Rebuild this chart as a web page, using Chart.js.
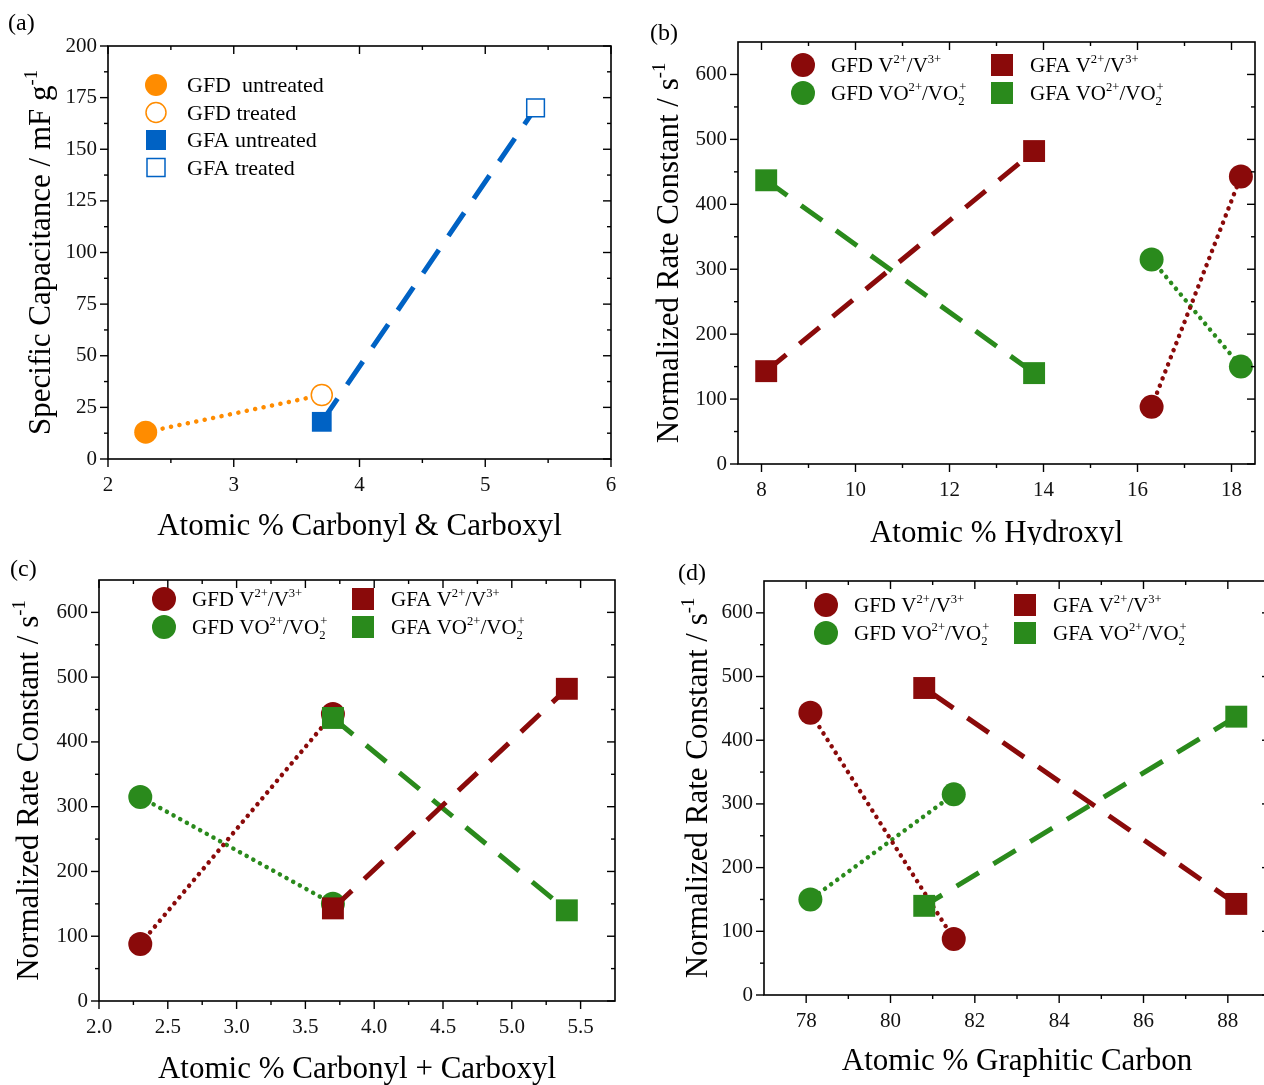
<!DOCTYPE html>
<html>
<head>
<meta charset="utf-8">
<script src="https://cdn.jsdelivr.net/npm/chart.js@4.4.0/dist/chart.umd.min.js"></script>
<style>
html, body { margin: 0; padding: 0; background: #fff; overflow: hidden; width: 1264px; height: 1085px; }
canvas { position: absolute; }
</style>
</head>
<body>
<canvas id="ca" width="632" height="545" style="left:0;top:0"></canvas>
<canvas id="cb" width="632" height="545" style="left:632px;top:0"></canvas>
<canvas id="cc" width="632" height="540" style="left:0;top:545px"></canvas>
<canvas id="cd" width="640" height="540" style="left:632px;top:545px"></canvas>
<script>
// sample order: GFD untreated, GFD treated, GFA untreated, GFA treated
const samples = ["GFD  untreated", "GFD treated", "GFA untreated", "GFA treated"];
const carbonylCarboxyl = [2.3, 3.7, 3.7, 5.4];
const hydroxyl = [16.3, 18.2, 8.1, 13.8];
const graphitic = [81.5, 78.1, 88.2, 80.8];
const capacitance = [13, 31, 18, 170];
const kV = [88, 443, 143, 482];   // V2+/V3+
const kVO = [315, 150, 437, 140]; // VO2+/VO2+

const rateLabels = ["GFD V^{2+}/V^{3+}", "GFA V^{2+}/V^{3+}", "GFD VO^{2+}/VO_{2}^{+}", "GFA VO^{2+}/VO_{2}^{+}"];

const capXTicks = [2, 3, 4, 5, 6];
const capXMinor = [2.5, 3.5, 4.5, 5.5];
const capYTicks = [0, 25, 50, 75, 100, 125, 150, 175, 200];
const capYMinor = [12.5, 37.5, 62.5, 87.5, 112.5, 137.5, 162.5, 187.5];
const rateTicks = [0, 100, 200, 300, 400, 500, 600];
const rateMinor = [50, 150, 250, 350, 450, 550];
const hydTicks = [8, 10, 12, 14, 16, 18];
const hydMinor = [9, 11, 13, 15, 17];
const ccTicks = [2.0, 2.5, 3.0, 3.5, 4.0, 4.5, 5.0, 5.5];
const ccMinor = [2.25, 2.75, 3.25, 3.75, 4.25, 4.75, 5.25];
const grTicks = [78, 80, 82, 84, 86, 88];
const grMinor = [79, 81, 83, 85, 87];

const FONT = '"Liberation Serif", "Times New Roman", serif';
const RED = "#8a0a0a";
const GREEN = "#2a8a1c";
const ORANGE = "#ff8c00";
const BLUE = "#0062c4";

function pts(xs, ys, idx) {
	return idx.map(i => ({ x: xs[i], y: ys[i] }));
}

// text with ^{..} superscripts and _{..} subscripts
function parseRich(text) {
	const parts = [];
	const re = /([\^_])\{([^}]*)\}/g;
	let last = 0, m;
	while ((m = re.exec(text))) {
		if (m.index > last) parts.push({ s: text.slice(last, m.index), k: "n" });
		parts.push({ s: m[2], k: m[1] === "^" ? "sup" : "sub" });
		last = re.lastIndex;
	}
	if (last < text.length) parts.push({ s: text.slice(last), k: "n" });
	return parts;
}

function drawRich(ctx, text, x, y, size, align) {
	const small = size * 0.6;
	let w = 0, subStart = null, subW = 0;
	const placed = [];
	parseRich(text).forEach(p => {
		const fs = p.k === "n" ? size : small;
		ctx.font = fs + "px " + FONT;
		const pw = ctx.measureText(p.s).width;
		if (p.k === "sup" && subStart !== null) {
			placed.push({ s: p.s, k: p.k, fs: fs, dx: subStart + 1 });
			w = subStart + Math.max(subW, pw + 1);
			subStart = null;
			return;
		}
		placed.push({ s: p.s, k: p.k, fs: fs, dx: w });
		if (p.k === "sub") { subStart = w; subW = pw; } else subStart = null;
		w += pw;
	});
	const x0 = align === "center" ? x - w / 2 : x;
	ctx.textAlign = "left";
	ctx.textBaseline = "alphabetic";
	placed.forEach(p => {
		ctx.font = p.fs + "px " + FONT;
		const dy = p.k === "sup" ? -0.42 * size : p.k === "sub" ? 0.25 * size : 0;
		ctx.fillText(p.s, x0 + p.dx, y + dy);
	});
}

const framePlugin = {
	id: "frame",
	afterDraw(chart, args, o) {
		const { ctx, chartArea: a } = chart;
		const sx = chart.scales.x, sy = chart.scales.y;
		ctx.save();
		ctx.strokeStyle = "#000";
		ctx.lineWidth = 1.6;
		ctx.strokeRect(a.left, a.top, a.right - a.left, a.bottom - a.top);
		ctx.lineWidth = 1.4;
		const seg = (x1, y1, x2, y2) => { ctx.beginPath(); ctx.moveTo(x1, y1); ctx.lineTo(x2, y2); ctx.stroke(); };
		const xt = (vals, len) => vals.forEach(v => {
			const p = sx.getPixelForValue(v);
			seg(p, a.bottom, p, a.bottom + len);
			seg(p, a.top, p, a.top + len);
		});
		const yt = (vals, len) => vals.forEach(v => {
			const p = sy.getPixelForValue(v);
			seg(a.left, p, a.left - len, p);
			seg(a.right, p, a.right - len, p);
		});
		xt(sx.ticks.map(t => t.value), 8);
		xt(o.xMinor, 4);
		yt(sy.ticks.map(t => t.value), 8);
		yt(o.yMinor, 4);
		ctx.restore();
	}
};

const titlePlugin = {
	id: "titles",
	afterDraw(chart, args, o) {
		const { ctx, chartArea: a } = chart;
		ctx.save();
		ctx.fillStyle = "#000";
		drawRich(ctx, o.xText, (a.left + a.right) / 2, o.xY + o.size * 0.33, o.size, "center");
		drawRich(ctx, o.panel, o.px, o.py + 24 * 0.33, 24, "left");
		ctx.translate(o.yX, (a.top + a.bottom) / 2);
		ctx.rotate(-Math.PI / 2);
		drawRich(ctx, o.yText, 0, o.size * 0.33, o.size, "center");
		ctx.restore();
	}
};

const legendPlugin = {
	id: "richLegend",
	afterDraw(chart, args, o) {
		const { ctx, chartArea: a } = chart;
		ctx.save();
		o.items.forEach(it => {
			const cx = a.left + o.x + it.col * o.colGap;
			const cy = a.top + o.y + it.row * o.rowGap;
			ctx.fillStyle = it.fill;
			ctx.strokeStyle = it.stroke;
			ctx.lineWidth = 1.5;
			ctx.beginPath();
			if (it.shape === "circle") ctx.arc(cx, cy, it.r, 0, Math.PI * 2);
			else ctx.rect(cx - it.r, cy - it.r, it.r * 2, it.r * 2);
			ctx.fill();
			if (it.open) ctx.stroke();
			ctx.fillStyle = "#000";
			drawRich(ctx, it.label, cx + o.textGap, cy + o.size * 0.33, o.size, "left");
		});
		ctx.restore();
	}
};

function axis(min, max, ticks, fit, pad, fmt) {
	return {
		type: "linear",
		min: min,
		max: max,
		grid: { display: false, drawTicks: false },
		border: { display: false },
		ticks: {
			color: "#111",
			font: { family: FONT, size: 21 },
			padding: pad,
			autoSkip: false,
			maxRotation: 0,
			callback: fmt || (v => String(v))
		},
		afterBuildTicks: s => { s.ticks = ticks.map(v => ({ value: v })); },
		afterFit: fit
	};
}

function makeChart(id, datasets, lay, xs, ys, plugins) {
	return new Chart(document.getElementById(id), {
		type: "scatter",
		data: { datasets: datasets },
		options: {
			responsive: false,
			animation: false,
			layout: { autoPadding: false, padding: { left: 0, top: lay.top, right: lay.right, bottom: 0 } },
			scales: {
				x: axis(xs.min, xs.max, xs.ticks, s => { s.height = lay.xH; s.paddingLeft = 0; s.paddingRight = 0; }, 14, xs.fmt),
				y: axis(ys.min, ys.max, ys.ticks, s => { s.width = lay.yW; s.paddingTop = 0; s.paddingBottom = 0; }, 11)
			},
			plugins: Object.assign({ legend: { display: false }, tooltip: { enabled: false } }, plugins)
		},
		plugins: [framePlugin, titlePlugin, legendPlugin]
	});
}

// (a) capacitance
makeChart("ca", [
	{
		data: pts(carbonylCarboxyl, capacitance, [2, 3]),
		showLine: true, order: 0,
		borderColor: BLUE, borderWidth: 5, borderDash: [28, 17],
		pointStyle: "rect", pointRadius: [14, 12.5],
		pointBackgroundColor: [BLUE, "#fff"], pointBorderColor: BLUE, pointBorderWidth: [0, 1.5]
	},
	{
		data: pts(carbonylCarboxyl, capacitance, [0, 1]),
		showLine: true, order: 1,
		borderColor: ORANGE, borderWidth: 4.5, borderDash: [0.1, 8.5], borderCapStyle: "round",
		pointStyle: "circle", pointRadius: [11.5, 10.5],
		pointBackgroundColor: [ORANGE, "#fff"], pointBorderColor: ORANGE, pointBorderWidth: [0, 1.5]
	}
], { top: 46, right: 21, xH: 86, yW: 108 },
	{ min: 2, max: 6, ticks: capXTicks },
	{ min: 0, max: 200, ticks: capYTicks },
	{
		frame: { xMinor: capXMinor, yMinor: capYMinor },
		titles: { xText: "Atomic % Carbonyl & Carboxyl", yText: "Specific Capacitance / mF g^{-1}", size: 31, xY: 525, yX: 40, panel: "(a)", px: 8, py: 22 },
		richLegend: {
			x: 48, y: 39, rowGap: 27.5, colGap: 0, textGap: 31, size: 22,
			items: [
				{ label: samples[0], shape: "circle", r: 11, fill: ORANGE, stroke: ORANGE, row: 0, col: 0 },
				{ label: samples[1], shape: "circle", r: 10, fill: "#fff", stroke: ORANGE, open: true, row: 1, col: 0 },
				{ label: samples[2], shape: "square", r: 10, fill: BLUE, stroke: BLUE, row: 2, col: 0 },
				{ label: samples[3], shape: "square", r: 9, fill: "#fff", stroke: BLUE, open: true, row: 3, col: 0 }
			]
		}
	});

function rateDatasets(xs) {
	const dashed = { showLine: true, borderWidth: 5, borderDash: [26, 17], pointStyle: "rect", pointRadius: 15.5, pointBorderWidth: 0 };
	const dotted = { showLine: true, borderWidth: 4.5, borderDash: [0.1, 7.5], borderCapStyle: "round", pointStyle: "circle", pointRadius: 12, pointBorderWidth: 0 };
	return [
		Object.assign({ data: pts(xs, kV, [2, 3]), order: 0, borderColor: RED, pointBackgroundColor: RED }, dashed),
		Object.assign({ data: pts(xs, kVO, [2, 3]), order: 1, borderColor: GREEN, pointBackgroundColor: GREEN }, dashed),
		Object.assign({ data: pts(xs, kV, [0, 1]), order: 2, borderColor: RED, pointBackgroundColor: RED }, dotted),
		Object.assign({ data: pts(xs, kVO, [0, 1]), order: 3, borderColor: GREEN, pointBackgroundColor: GREEN }, dotted)
	];
}

function rateLegend(x, y) {
	return {
		x: x, y: y, rowGap: 28, colGap: 199, textGap: 28, size: 21,
		items: [
			{ label: rateLabels[0], shape: "circle", r: 12, fill: RED, stroke: RED, row: 0, col: 0 },
			{ label: rateLabels[1], shape: "square", r: 11, fill: RED, stroke: RED, row: 0, col: 1 },
			{ label: rateLabels[2], shape: "circle", r: 12, fill: GREEN, stroke: GREEN, row: 1, col: 0 },
			{ label: rateLabels[3], shape: "square", r: 11, fill: GREEN, stroke: GREEN, row: 1, col: 1 }
		]
	};
}

const rateY = { min: 0, max: 650, ticks: rateTicks };
const rateTitle = "Normalized Rate Constant / s^{-1}";

// (b) hydroxyl
makeChart("cb", rateDatasets(hydroxyl), { top: 42, right: 9, xH: 81, yW: 106 },
	{ min: 7.5, max: 18.5, ticks: hydTicks }, rateY,
	{
		frame: { xMinor: hydMinor, yMinor: rateMinor },
		titles: { xText: "Atomic % Hydroxyl", yText: rateTitle, size: 31, xY: 532, yX: 36, panel: "(b)", px: 18, py: 32 },
		richLegend: rateLegend(65, 23)
	});

// (c) carbonyl + carboxyl
makeChart("cc", rateDatasets(carbonylCarboxyl), { top: 35, right: 17, xH: 84, yW: 99 },
	{ min: 2.0, max: 5.75, ticks: ccTicks, fmt: v => v.toFixed(1) }, rateY,
	{
		frame: { xMinor: ccMinor, yMinor: rateMinor },
		titles: { xText: "Atomic % Carbonyl + Carboxyl", yText: rateTitle, size: 31, xY: 523, yX: 28, panel: "(c)", px: 10, py: 23 },
		richLegend: rateLegend(65, 19)
	});

// (d) graphitic carbon
makeChart("cd", rateDatasets(graphitic), { top: 36, right: 2, xH: 90, yW: 132 },
	{ min: 77, max: 89, ticks: grTicks }, rateY,
	{
		frame: { xMinor: grMinor, yMinor: rateMinor },
		titles: { xText: "Atomic % Graphitic Carbon", yText: rateTitle, size: 31, xY: 515, yX: 65, panel: "(d)", px: 46, py: 27 },
		richLegend: rateLegend(62, 24)
	});
</script>
</body>
</html>
